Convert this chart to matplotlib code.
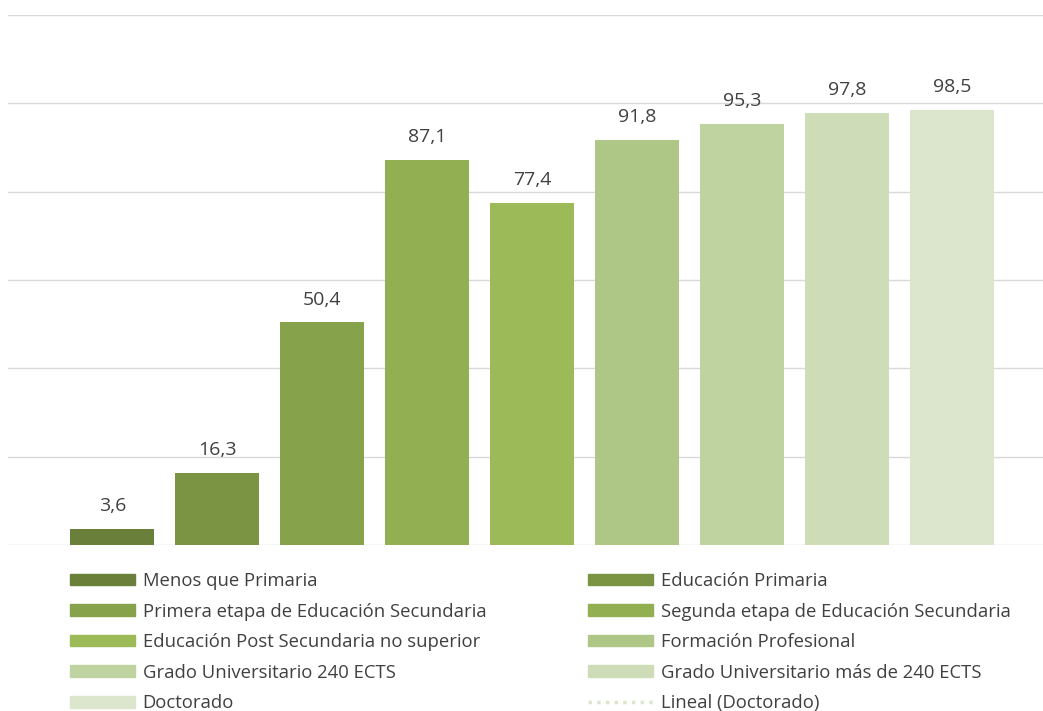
import matplotlib.pyplot as plt
from matplotlib.patches import Patch
from matplotlib.lines import Line2D

plt.rcParams['font.family'] = ['Open Sans', 'DejaVu Sans']

categorias = ["Menos que Primaria", "Educación Primaria",
              "Primera etapa de Educación Secundaria",
              "Segunda etapa de Educación Secundaria",
              "Educación Post Secundaria no superior",
              "Formación Profesional", "Grado Universitario 240 ECTS",
              "Grado Universitario más de 240 ECTS", "Doctorado"]
valores = [3.6, 16.3, 50.4, 87.1, 77.4, 91.8, 95.3, 97.8, 98.5]
colores = ["#6A803A", "#7A9444", "#86A24B", "#92AF52", "#9CBB58",
           "#AEC787", "#BED3A0", "#CEDDB8", "#DCE6CC"]
tendencia = "Lineal (Doctorado)"

fig = plt.figure(figsize=(10.43, 7.11), dpi=100)
ax = fig.add_axes([8/1043, 166/711, 1035/1043, 530/711])

x = list(range(len(valores)))
ax.bar(x, valores, width=0.8, color=colores, zorder=2)
for xi, v in zip(x, valores):
    ax.annotate(f"{v:.1f}".replace(".", ","), (xi, v), xytext=(0, 10),
                textcoords="offset points", ha="center", va="bottom",
                fontsize=14, color="#404040")

ax.set_xlim(-0.995, 8.862)
ax.set_ylim(0, 120)
ax.set_yticks(range(0, 121, 20))
ax.grid(axis="y", color="#D9D9D9", linewidth=1, zorder=0)
ax.tick_params(left=False, bottom=False, labelleft=False, labelbottom=False)
for s in ax.spines.values():
    s.set_visible(False)

handles = [Patch(color=c) for c in colores]
handles.append(Line2D([], [], color=colores[-1], linestyle=(0, (1, 1.5)), linewidth=2.5))
labels = categorias + [tendencia]

kw = dict(frameon=False, fontsize=13.3, handlelength=3.5, handleheight=0.6,
          handletextpad=0.43, labelspacing=0.68, borderpad=0, borderaxespad=0,
          labelcolor="#404040", loc="upper left")
leg1 = fig.legend(handles[0::2], labels[0::2], bbox_to_anchor=(70/1043, 1 - 572/711), **kw)
leg2 = fig.legend(handles[1::2], labels[1::2], bbox_to_anchor=(588/1043, 1 - 572/711), **kw)

fig.savefig("out.png", dpi=100)
